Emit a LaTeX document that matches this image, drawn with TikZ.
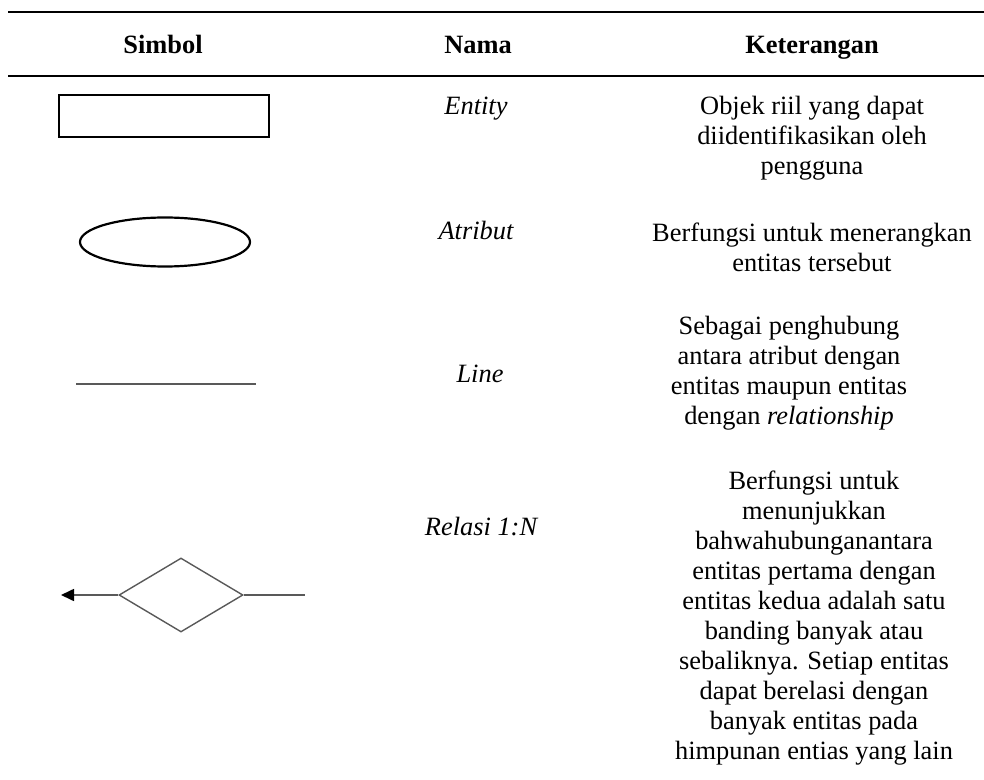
\documentclass[tikz,border=0pt]{standalone}
\usepackage{fontspec}
\setmainfont{Liberation Serif}
\usetikzlibrary{
  arrows.meta,
  shapes.geometric
}

\begin{document}
\begin{tikzpicture}[x=0.5pt,y=-0.5pt,
  font=\fontsize{13.2}{15}\selectfont,
  head/.style={font=\fontsize{13.2}{15}\selectfont\bfseries,
    text height=0.7em, text depth=0.22em},
  nama/.style={font=\fontsize{13.2}{15}\selectfont\itshape,
    text height=0.7em, text depth=0.22em},
  ket/.style={align=center, inner sep=0pt},
  rule/.style={line width=1.1pt},
  symline/.style={draw=black!65, line width=0.8pt}]
  \useasboundingbox (0,0) rectangle (984,780);

  % The two rules round the header row.
  \draw [rule] (8,12) -- (984,12);
  \draw [rule] (8,76) -- (984,76);

  % Header texts, one for each column.
  \node [head] (simbol) at (163,49) {Simbol};
  \node [head] (nama) at (478,49) {Nama};
  \node [head] (keterangan) at (812,49) {Keterangan};

  % First row: the entity box, its name and what it means.
  \node [draw, line width=1.2pt, minimum width=105pt, minimum height=21pt]
    (entity) at (164,116) {};
  \node [nama] (entitynama) at (476,110) {Entity};
  \node [ket] (entityket) at (812,138)
    {Objek riil yang dapat\\ diidentifikasikan oleh\\ pengguna};

  % Second row: the attribute ellipse.
  \node [draw, ellipse, line width=1.1pt, inner sep=0pt,
    minimum width=85pt, minimum height=24.5pt] (atribut) at (165,242) {};
  \node [nama] (atributnama) at (476,235) {Atribut};
  \node [ket] (atributket) at (812,247)
    {Berfungsi untuk menerangkan\\ entitas tersebut};

  % Third row: a plain line between two free ends.
  \coordinate (linekiri) at (76,384);
  \coordinate (linekanan) at (256,384);
  \draw [symline] (linekiri) -- (linekanan);
  \node [nama] (linenama) at (480,378) {Line};
  \node [ket] (lineket) at (789,373)
    {Sebagai penghubung\\ antara atribut dengan\\ entitas maupun entitas\\
     dengan \textit{relationship}};

  % Fourth row: the 1:N relation, a diamond with an arrow to the left.
  \node [draw=black!65, diamond, line width=0.7pt, inner sep=0pt, aspect=1.68,
    minimum width=62pt, minimum height=37pt] (relasi) at (181,595) {};
  \coordinate (relasikiri) at (61,595);
  \coordinate (relasikanan) at (305,595);
  \draw [symline, -{Triangle[length=6.5pt, width=6pt, black]}]
    (relasi.west) -- (relasikiri);
  \draw [symline] (relasi.east) -- (relasikanan);
  \node [nama] (relasinama) at (481,531) {Relasi 1:N};
  \node [ket] (relasiket) at (814,618)
    {Berfungsi untuk\\ menunjukkan\\ bahwahubunganantara\\
     entitas pertama dengan\\ entitas kedua adalah satu\\
     banding banyak atau\\ sebaliknya. Setiap entitas\\
     dapat berelasi dengan\\ banyak entitas pada\\
     himpunan entias yang lain};
\end{tikzpicture}
\end{document}
